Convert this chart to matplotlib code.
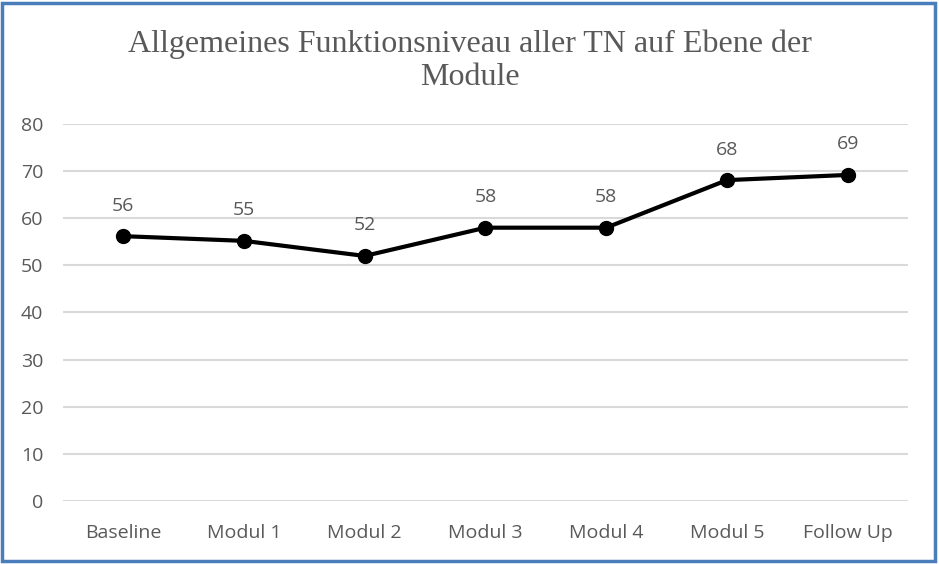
import matplotlib.pyplot as plt
from matplotlib.patches import Rectangle

# Data
categories = ['Baseline', 'Modul 1', 'Modul 2', 'Modul 3', 'Modul 4', 'Modul 5', 'Follow Up']
values = [56.2, 55.2, 52.0, 58.0, 58.0, 68.1, 69.2]
labels = ['56', '55', '52', '58', '58', '68', '69']
yticks = [0, 10, 20, 30, 40, 50, 60, 70, 80]

text_grey = '#595959'

fig = plt.figure(figsize=(9.39, 5.64), dpi=100)
ax = fig.add_axes([0.067, 0.112, 0.900, 0.668])

x = list(range(len(categories)))
ax.plot(x, values, color='black', linewidth=3, marker='o', markersize=10, zorder=3)

# Data labels above points
for xi, v, lab in zip(x, values, labels):
    ax.annotate(lab, (xi, v), xytext=(0, 22), textcoords='offset points',
                ha='center', va='center', fontsize=14, color=text_grey,
                fontfamily='Open Sans')

ax.set_xlim(-0.5, len(categories) - 0.5)
ax.set_ylim(0, 80)
ax.set_yticks(yticks)
ax.set_xticks(x)
ax.set_xticklabels(categories)

ax.grid(axis='y', color='#D9D9D9', linewidth=1.5)
ax.set_axisbelow(True)
for s in ax.spines.values():
    s.set_visible(False)
ax.tick_params(length=0, labelsize=14, labelcolor=text_grey)
for t in ax.get_xticklabels() + ax.get_yticklabels():
    t.set_fontfamily('Open Sans')
ax.tick_params(axis='x', pad=17)
ax.tick_params(axis='y', pad=14)

fig.suptitle('Allgemeines Funktionsniveau aller TN auf Ebene der\nModule',
             y=0.948, fontsize=23, color=text_grey, fontfamily='Liberation Serif',
             linespacing=1.2)

# Blue frame around the chart
fig.patches.append(Rectangle((0.002, 0.005), 0.994, 0.99, transform=fig.transFigure,
                             fill=False, edgecolor='#4A7EBB', linewidth=2.5))

fig.savefig('out.png', dpi=100)
